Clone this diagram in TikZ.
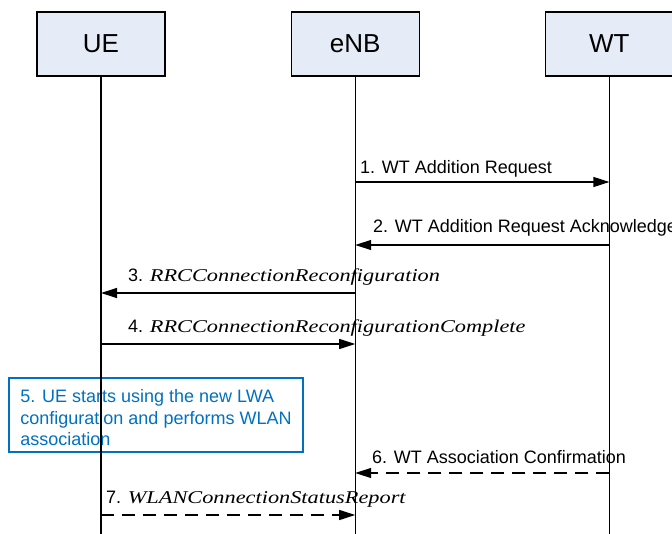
\documentclass[tikz,border=0pt]{standalone}
\usepackage{fontspec}
\setmainfont{Liberation Sans}
\newfontfamily\timesfont{Liberation Serif}
\usepackage{graphicx}
\usetikzlibrary{arrows.meta,positioning}

\definecolor{boxfill}{HTML}{E5ECF7}
\definecolor{noteblue}{HTML}{0070C0}

\newcommand{\msgname}[1]{\scalebox{1.24}[1]{\timesfont\itshape\fontsize{18}{20}\selectfont #1}}

\begin{document}
\begin{tikzpicture}[
  x=1pt, y=-1pt,
  every node/.style={
    font=\fontsize{18}{21.5}\selectfont,
    text=black
  },
  entity/.style={
    draw=black,
    line width=1.2pt,
    fill=boxfill,
    minimum width=128pt,
    minimum height=64pt,
    inner sep=0pt,
    font=\fontsize{26}{30}\selectfont
  },
  lifeline/.style={
    draw=black,
    line width=1.2pt
  },
  msg/.style={
    ->,
    draw=black,
    line width=1.2pt,
    >={Triangle[length=16pt,width=10pt]}
  },
  reply/.style={
    msg,
    dash pattern=on 13pt off 8pt
  },
  msglabel/.style={
    anchor=base west,
    inner sep=0pt
  },
  note/.style={
    draw=noteblue,
    text=noteblue,
    line width=1.2pt,
    minimum width=294pt,
    minimum height=74pt,
    inner sep=0pt,
    align=left
  }
]
  \useasboundingbox (0,0) rectangle (672,534);

  \node[entity] (ue) at (101,44) {UE};
  \node[entity, right=125pt of ue] (enb) {eNB};
  \node[entity, right=125pt of enb] (wt) {WT};

  % points where the messages meet the lifelines
  \foreach \n/\y in {1/182,2/245,3/293,4/344,6/473,7/515} {
    \coordinate (ue-\n) at (ue |- 0,\y);
    \coordinate (enb-\n) at (enb |- 0,\y);
    \coordinate (wt-\n) at (wt |- 0,\y);
  }

  \node[note] (lwa) at (156,415)
    {\rule{0pt}{19pt}5. UE starts using the new LWA\\configuration and performs WLAN\\association};

  \node[msglabel] (l1) at (360,174) {1. WT Addition Request};
  \node[msglabel] (l2) at (373,233) {2. WT Addition Request Acknowledge};
  \node[msglabel] (l3) at (128,282) {3. \msgname{RRCConnectionReconfiguration}};
  \node[msglabel] (l4) at (128,333) {4. \msgname{RRCConnectionReconfigurationComplete}};
  \node[msglabel] (l6) at (372,463) {6. WT Association Confirmation};
  \node[msglabel] (l7) at (106,503) {7. \msgname{WLANConnectionStatusReport}};

  \foreach \e in {ue,enb,wt}
    \draw[lifeline] (\e.south) -- (\e |- 0,534);

  \draw[msg] (enb-1) -- (wt-1);
  \draw[msg] (wt-2) -- (enb-2);
  \draw[msg] (enb-3) -- (ue-3);
  \draw[msg] (ue-4) -- (enb-4);
  \draw[reply] (wt-6) -- (enb-6);
  \draw[reply] (ue-7) -- (enb-7);
\end{tikzpicture}
\end{document}
